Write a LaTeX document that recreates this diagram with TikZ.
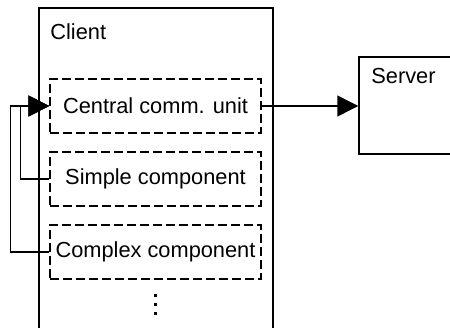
\documentclass[tikz,border=0pt]{standalone}
\usepackage{fontspec}
\setmainfont{Liberation Sans}
\usetikzlibrary{arrows.meta}
\tikzset{
  solidbox/.style={draw, line width=0.75pt, inner sep=0pt},
  partbox/.style={draw, line width=0.7pt, dash pattern=on 4.5pt off 2pt,
    minimum width=105.5pt, minimum height=27pt, inner sep=0pt},
  link/.style={line width=0.75pt, -{Triangle[length=10.5pt,width=10.5pt]}},
  label/.style={anchor=base west, inner sep=0pt}
}
\begin{document}
\begin{tikzpicture}[x=0.5pt, y=-0.5pt, font=\fontsize{10.9}{13}\selectfont]
  \useasboundingbox (0,0) rectangle (450,327);
  % outer boxes (open towards the page edge)
  \node[solidbox, minimum width=117pt, minimum height=166pt] (client) at (156,174) {};
  \node[solidbox, minimum width=55.5pt, minimum height=48.5pt] (server) at (414.5,105.5) {};
  \node[label] (clientlabel) at (50,39) {Client};
  \node[label] (serverlabel) at (371,83) {Server};
  % components inside the client
  \node[partbox] (central) at (155.5,106) {Central comm. unit};
  \node[partbox] (simple) at (155.5,179) {Simple component};
  \node[partbox] (complex) at (155.5,252) {Complex component};
  % continuation dots
  \foreach \y in {295,304,313}
    \fill (153.5,\y-1.5) rectangle (156.5,\y+1.5);
  % connectors
  \draw[link] (central.east) -- (central.east -| server.west);
  \draw[link] (simple.west) -- ++(-29,0) |- (central.west);
  \draw[link] (complex.west) -- ++(-39,0) |- (central.west);
\end{tikzpicture}
\end{document}
